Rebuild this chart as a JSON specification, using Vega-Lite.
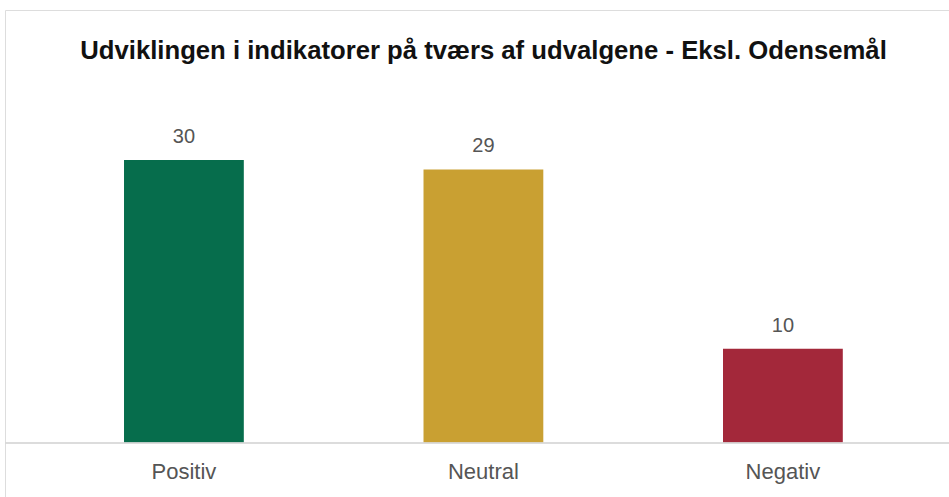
{
  "$schema": "https://vega.github.io/schema/vega-lite/v6.json",
  "autosize": {"type": "none"},
  "padding": {"left": 5, "top": 10, "right": 0, "bottom": 0},
  "width": 947,
  "height": 490,
  "title": {
    "text": "Udviklingen i indikatorer på tværs af udvalgene - Eksl.  Odensemål",
    "font": "Liberation Sans",
    "fontSize": 25.7,
    "fontWeight": "bold",
    "color": "#111111",
    "anchor": "middle",
    "frame": "group",
    "offset": 0,
    "baseline": "alphabetic",
    "dx": 5,
    "dy": 75
  },
  "data": {
    "values": [
      {"kategori": "Positiv", "antal": 30},
      {"kategori": "Neutral", "antal": 29},
      {"kategori": "Negativ", "antal": 10}
    ]
  },
  "encoding": {
    "x": {
      "field": "kategori",
      "type": "nominal",
      "sort": ["Positiv", "Neutral", "Negativ"],
      "scale": {"paddingInner": 0.6, "paddingOuter": 0.381, "align": 0.5215},
      "axis": null
    }
  },
  "layer": [
    {
      "mark": {"type": "bar"},
      "encoding": {
        "y": {
          "field": "antal",
          "type": "quantitative",
          "scale": {"domain": [-6.04, 45.9], "nice": false, "zero": false},
          "axis": null
        },
        "y2": {"datum": 0},
        "color": {
          "field": "kategori",
          "type": "nominal",
          "scale": {
            "domain": ["Positiv", "Neutral", "Negativ"],
            "range": ["#066D4C", "#C9A032", "#A3283A"]
          },
          "legend": null
        }
      }
    },
    {
      "mark": {"type": "rule", "color": "#D8D8D8", "strokeWidth": 1.2},
      "encoding": {"y": {"datum": 0}, "x": null}
    },
    {
      "mark": {
        "type": "text",
        "font": "Liberation Sans",
        "fontSize": 20,
        "color": "#555555",
        "baseline": "alphabetic",
        "dy": -17
      },
      "encoding": {
        "y": {"field": "antal", "type": "quantitative"},
        "text": {"field": "antal", "type": "quantitative"}
      }
    },
    {
      "mark": {
        "type": "text",
        "font": "Liberation Sans",
        "fontSize": 22,
        "color": "#555555",
        "baseline": "alphabetic",
        "dy": 36
      },
      "encoding": {
        "y": {"datum": 0},
        "text": {"field": "kategori", "type": "nominal"}
      }
    }
  ],
  "config": {
    "view": {"stroke": "#DDDDDD", "strokeWidth": 1}
  }
}
